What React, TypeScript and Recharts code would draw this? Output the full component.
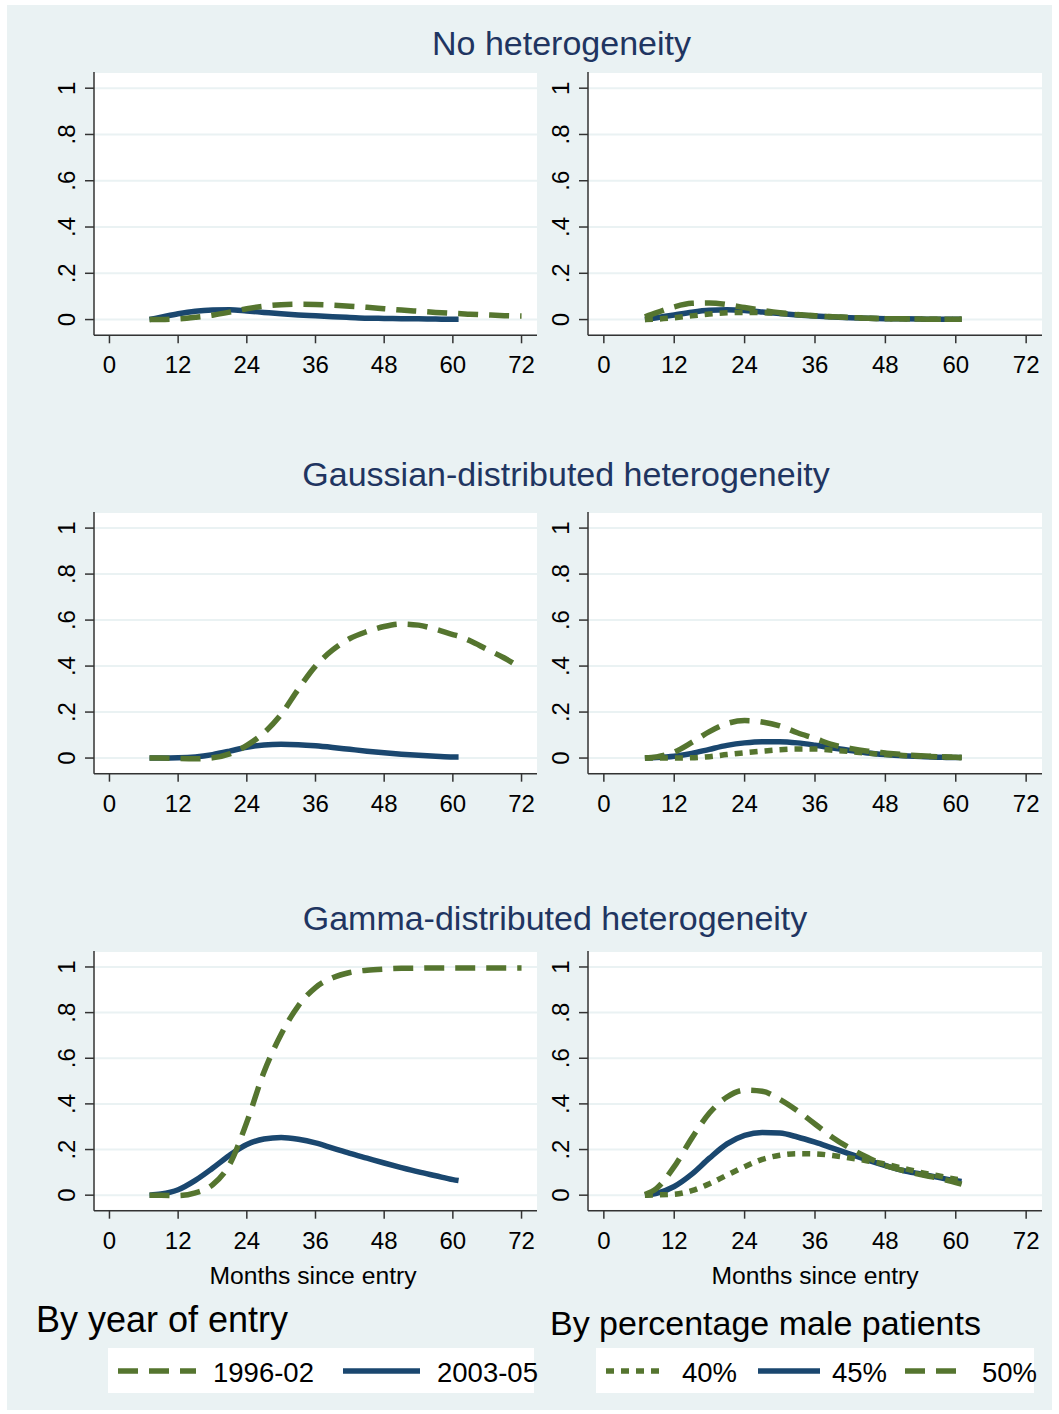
import React from "react";
import { LineChart, Line, XAxis, YAxis, CartesianGrid } from "recharts";

// ---------- data ----------
const monthsShort = [7, 9, 12, 15, 18, 21, 24, 27, 30, 33, 36, 39, 42, 45, 48, 51, 54, 57, 60, 61];
const monthsLong = [7, 9, 12, 15, 18, 21, 24, 27, 30, 33, 36, 39, 42, 45, 48, 51, 54, 57, 60, 61, 63, 66, 69, 72];

const xTicks = [0, 12, 24, 36, 48, 60, 72];
const yTicks = [0, 0.2, 0.4, 0.6, 0.8, 1];
const yTickLabels = ["0", ".2", ".4", ".6", ".8", "1"];

const panelTitles = ["No heterogeneity", "Gaussian-distributed heterogeneity", "Gamma-distributed heterogeneity"];
const xAxisTitle = "Months since entry";
const leftGroupTitle = "By year of entry";
const rightGroupTitle = "By percentage male patients";
const yearLabels = ["1996-02", "2003-05"];
const maleLabels = ["40%", "45%", "50%"];

// No heterogeneity
const noHet1996 = [0, 0, 0.003, 0.01, 0.019, 0.032, 0.047, 0.058, 0.064, 0.066, 0.065, 0.062, 0.058, 0.053, 0.047, 0.041, 0.036, 0.031, 0.027, 0.026, 0.023, 0.02, 0.017, 0.015];
const noHet2003 = [0, 0.01, 0.025, 0.036, 0.041, 0.042, 0.037, 0.031, 0.025, 0.02, 0.016, 0.012, 0.009, 0.006, 0.005, 0.004, 0.003, 0.002, 0.001, 0.001];
const noHet40 = [0, 0.002, 0.008, 0.016, 0.024, 0.029, 0.031, 0.03, 0.026, 0.021, 0.016, 0.012, 0.009, 0.006, 0.004, 0.003, 0.002, 0.001, 0.001, 0.001];
const noHet45 = [0, 0.008, 0.02, 0.032, 0.04, 0.042, 0.039, 0.033, 0.026, 0.02, 0.015, 0.011, 0.008, 0.006, 0.004, 0.003, 0.002, 0.001, 0.001, 0.001];
const noHet50 = [0.012, 0.03, 0.055, 0.07, 0.072, 0.065, 0.052, 0.04, 0.03, 0.022, 0.016, 0.012, 0.008, 0.006, 0.004, 0.003, 0.002, 0.001, 0.001, 0.001];

// Gaussian-distributed heterogeneity
const gauss1996 = [0, 0, -0.002, -0.003, 0.001, 0.018, 0.055, 0.11, 0.19, 0.3, 0.4, 0.47, 0.52, 0.55, 0.572, 0.583, 0.578, 0.56, 0.537, 0.53, 0.51, 0.472, 0.435, 0.39];
const gauss2003 = [0, 0, 0.001, 0.005, 0.015, 0.03, 0.047, 0.057, 0.06, 0.058, 0.053, 0.046, 0.038, 0.03, 0.023, 0.017, 0.012, 0.008, 0.005, 0.005];
const gauss40 = [0, 0, 0, 0.001, 0.006, 0.015, 0.023, 0.03, 0.036, 0.039, 0.039, 0.034, 0.028, 0.021, 0.015, 0.011, 0.008, 0.005, 0.003, 0.002];
const gauss45 = [0, 0.002, 0.008, 0.02, 0.038, 0.055, 0.066, 0.071, 0.071, 0.066, 0.056, 0.044, 0.033, 0.022, 0.015, 0.01, 0.007, 0.004, 0.002, 0.002];
const gauss50 = [0, 0.005, 0.026, 0.068, 0.115, 0.15, 0.163, 0.157, 0.14, 0.11, 0.085, 0.058, 0.042, 0.03, 0.022, 0.015, 0.01, 0.006, 0.003, 0.002];

// Gamma-distributed heterogeneity
const gamma1996 = [0, 0, -0.002, 0.01, 0.045, 0.135, 0.32, 0.54, 0.705, 0.83, 0.91, 0.953, 0.976, 0.986, 0.991, 0.994, 0.995, 0.996, 0.996, 0.996, 0.996, 0.996, 0.996, 0.996];
const gamma2003 = [0, 0.005, 0.024, 0.065, 0.118, 0.175, 0.222, 0.246, 0.253, 0.245, 0.229, 0.206, 0.183, 0.162, 0.141, 0.121, 0.102, 0.085, 0.068, 0.064];
const gamma40 = [0, 0.001, 0.004, 0.02, 0.05, 0.088, 0.125, 0.157, 0.175, 0.182, 0.181, 0.174, 0.163, 0.15, 0.136, 0.118, 0.1, 0.085, 0.07, 0.067];
const gamma45 = [0, 0.008, 0.038, 0.092, 0.162, 0.225, 0.262, 0.275, 0.272, 0.255, 0.232, 0.206, 0.18, 0.154, 0.13, 0.108, 0.093, 0.078, 0.063, 0.06];
const gamma50 = [0.003, 0.03, 0.125, 0.25, 0.36, 0.43, 0.46, 0.455, 0.42, 0.37, 0.312, 0.253, 0.205, 0.165, 0.13, 0.108, 0.09, 0.075, 0.055, 0.048];

// ---------- styles ----------
const FONT = '"Liberation Sans", Arial, Helvetica, sans-serif';
const GREEN = "#55752f";
const NAVY = "#1a476f";
const BG = "#eaf2f3";
const GRID = "#eaf2f3";
const TITLE = "#1f3561";
const AXIS = "#333333";
const DASH = "20 11";
const DOT = "8 7";

type Series = { key: string; color: string; dash?: string };

function buildRows(months: number[], cols: Record<string, number[]>) {
  return months.map((m, i) => {
    const row: Record<string, number | undefined> = { m };
    Object.keys(cols).forEach((k) => {
      row[k] = cols[k][i];
    });
    return row;
  });
}

const yearSeries: Series[] = [
  { key: "y2003", color: NAVY },
  { key: "y1996", color: GREEN, dash: DASH },
];
const maleSeries: Series[] = [
  { key: "p45", color: NAVY },
  { key: "p40", color: GREEN, dash: DOT },
  { key: "p50", color: GREEN, dash: DASH },
];

const rowsData = [
  {
    left: buildRows(monthsLong, { y1996: noHet1996, y2003: noHet2003 }),
    right: buildRows(monthsShort, { p40: noHet40, p45: noHet45, p50: noHet50 }),
  },
  {
    left: buildRows(monthsLong, { y1996: gauss1996, y2003: gauss2003 }),
    right: buildRows(monthsShort, { p40: gauss40, p45: gauss45, p50: gauss50 }),
  },
  {
    left: buildRows(monthsLong, { y1996: gamma1996, y2003: gamma2003 }),
    right: buildRows(monthsShort, { p40: gamma40, p45: gamma45, p50: gamma50 }),
  },
];

const rowGeom = [
  { top: 71.7, h: 263.3, titleY: 55, titleX: 561.5, titleSize: 34 },
  { top: 512.3, h: 261.7, titleY: 486, titleX: 566, titleSize: 34 },
  { top: 951, h: 259.7, titleY: 930, titleX: 555, titleSize: 34 },
];
const colGeom = [
  { left: 94, w: 443 },
  { left: 588, w: 454 },
];

const XTick = (props: any) => {
  const { x, y, payload } = props;
  return (
    <text x={x} y={y + 30} textAnchor="middle" fontSize={24} fontFamily={FONT} fill="#000">
      {String(payload.value)}
    </text>
  );
};

const YTick = (props: any) => {
  const { x, y, payload } = props;
  const idx = yTicks.indexOf(payload.value);
  const label = idx >= 0 ? yTickLabels[idx] : String(payload.value);
  const cx = x - 18.5;
  return (
    <text
      x={cx}
      y={y}
      dy="0.36em"
      transform={`rotate(-90 ${cx} ${y})`}
      textAnchor="middle"
      fontSize={24}
      fontFamily={FONT}
      fill="#000"
    >
      {label}
    </text>
  );
};

const YW = 60;
const XH = 50;

function Panel({ left, top, w, h, data, series }: { left: number; top: number; w: number; h: number; data: any[]; series: Series[] }) {
  return (
    <div style={{ position: "absolute", left: left - YW, top, width: w + YW, height: h + XH }}>
      <LineChart width={w + YW} height={h + XH} data={data} margin={{ top: 0, right: 0, bottom: 0, left: 0 }}>
        <CartesianGrid horizontal vertical={false} fill="#ffffff" fillOpacity={1} stroke={GRID} strokeWidth={2} />
        <XAxis
          dataKey="m"
          type="number"
          domain={[-2.7, 74.7]}
          ticks={xTicks}
          interval={0}
          height={XH}
          tickSize={8}
          tickMargin={0}
          allowDataOverflow
          axisLine={{ stroke: AXIS, strokeWidth: 1.5 }}
          tickLine={{ stroke: AXIS, strokeWidth: 1.5 }}
          tick={XTick}
        />
        <YAxis
          type="number"
          domain={[-0.068, 1.07]}
          ticks={yTicks}
          interval={0}
          width={YW}
          tickSize={9}
          tickMargin={0}
          allowDataOverflow
          axisLine={{ stroke: AXIS, strokeWidth: 1.5 }}
          tickLine={{ stroke: AXIS, strokeWidth: 1.5 }}
          tick={YTick}
        />
        {series.map((s) => (
          <Line
            key={s.key}
            dataKey={s.key}
            type="monotone"
            stroke={s.color}
            strokeWidth={5.5}
            strokeDasharray={s.dash}
            strokeLinecap="butt"
            strokeLinejoin="round"
            dot={false}
            activeDot={false}
            isAnimationActive={false}
          />
        ))}
      </LineChart>
    </div>
  );
}

function LegendSample({ x1, x2, color, dash }: { x1: number; x2: number; color: string; dash?: string }) {
  return <line x1={x1} x2={x2} y1={1371} y2={1371} stroke={color} strokeWidth={5.5} strokeDasharray={dash} />;
}

export default function App() {
  return (
    <div style={{ position: "absolute", left: 0, top: 0, width: 1059, height: 1414, background: "#ffffff", fontFamily: FONT }}>
      <div style={{ position: "absolute", left: 7, top: 5, width: 1045, height: 1405, background: BG }} />

      {rowGeom.map((r, ri) => (
        <React.Fragment key={ri}>
          <Panel left={colGeom[0].left} top={r.top} w={colGeom[0].w} h={r.h} data={rowsData[ri].left} series={yearSeries} />
          <Panel left={colGeom[1].left} top={r.top} w={colGeom[1].w} h={r.h} data={rowsData[ri].right} series={maleSeries} />
        </React.Fragment>
      ))}

      <svg width={1059} height={1414} style={{ position: "absolute", left: 0, top: 0, pointerEvents: "none" }}>
        {rowGeom.map((r, ri) => (
          <text key={ri} x={r.titleX} y={r.titleY} textAnchor="middle" fontSize={r.titleSize} fill={TITLE} fontFamily={FONT}>
            {panelTitles[ri]}
          </text>
        ))}
        <text x={313} y={1284} textAnchor="middle" fontSize={24.7} fill="#000" fontFamily={FONT}>{xAxisTitle}</text>
        <text x={815} y={1284} textAnchor="middle" fontSize={24.7} fill="#000" fontFamily={FONT}>{xAxisTitle}</text>

        <text x={36} y={1332} fontSize={36} fill="#000" fontFamily={FONT}>{leftGroupTitle}</text>
        <text x={550} y={1335} fontSize={34} fill="#000" fontFamily={FONT}>{rightGroupTitle}</text>

        <rect x={108} y={1348} width={426} height={45} fill="#ffffff" />
        <rect x={596} y={1348} width={438} height={45} fill="#ffffff" />

        <LegendSample x1={118} x2={196} color={GREEN} dash={DASH} />
        <text x={213} y={1381.5} fontSize={27.5} fill="#000" fontFamily={FONT}>{yearLabels[0]}</text>
        <LegendSample x1={343} x2={420} color={NAVY} />
        <text x={437} y={1381.5} fontSize={27.5} fill="#000" fontFamily={FONT}>{yearLabels[1]}</text>

        <LegendSample x1={606} x2={664} color={GREEN} dash={DOT} />
        <text x={682} y={1381.5} fontSize={27.5} fill="#000" fontFamily={FONT}>{maleLabels[0]}</text>
        <LegendSample x1={758} x2={820} color={NAVY} />
        <text x={832} y={1381.5} fontSize={27.5} fill="#000" fontFamily={FONT}>{maleLabels[1]}</text>
        <LegendSample x1={905} x2={962} color={GREEN} dash={DASH} />
        <text x={982} y={1381.5} fontSize={27.5} fill="#000" fontFamily={FONT}>{maleLabels[2]}</text>
      </svg>
    </div>
  );
}
